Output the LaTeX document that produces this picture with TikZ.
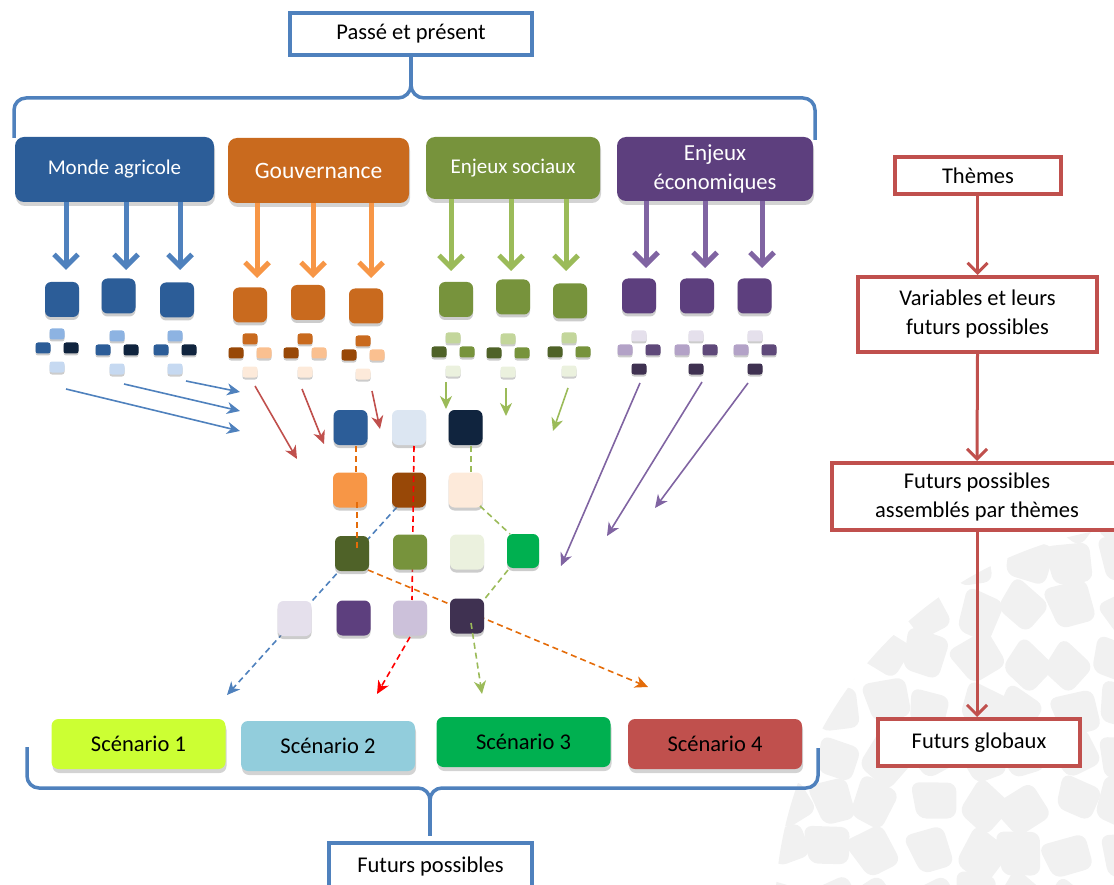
\documentclass[tikz,border=0pt]{standalone}
\usepackage{fontspec}
\setmainfont{Carlito}
\usetikzlibrary{arrows.meta,shadows,calc}
\definecolor{accblue}{HTML}{4F81BD}
\definecolor{cmonde}{HTML}{2C5D98}
\definecolor{cgouv}{HTML}{C96A1E}
\definecolor{csoc}{HTML}{77933C}
\definecolor{cecon}{HTML}{5D3F7E}
\definecolor{aorange}{HTML}{F79646}
\definecolor{agreen}{HTML}{9BBB59}
\definecolor{apurple}{HTML}{8064A2}
\definecolor{ared}{HTML}{C0504D}
\definecolor{dorange}{HTML}{E46C0A}
\definecolor{lblue}{HTML}{8DB3E2}
\definecolor{llblue}{HTML}{C6D9F1}
\definecolor{pblue}{HTML}{DCE6F2}
\definecolor{navy}{HTML}{10243E}
\definecolor{brown}{HTML}{984807}
\definecolor{lorange}{HTML}{FAC090}
\definecolor{cream}{HTML}{FDEADA}
\definecolor{lgreen}{HTML}{C3D69B}
\definecolor{dgreen}{HTML}{4F6228}
\definecolor{pgreen}{HTML}{EBF1DE}
\definecolor{bgreen}{HTML}{00B050}
\definecolor{ppurple}{HTML}{E5E0EC}
\definecolor{lpurple}{HTML}{B3A2C7}
\definecolor{mpurple}{HTML}{5F497A}
\definecolor{dpurple}{HTML}{3F3151}
\definecolor{lilac}{HTML}{CCC1DA}
\definecolor{lime}{HTML}{CCFF33}
\definecolor{aqua}{HTML}{92CDDC}
\definecolor{wmark}{HTML}{F1F1F1}
\newcommand\mycluster[7]{%
  \node[smallsq, fill=#4] (#1t) at (#2,#3-16) {};
  \node[smallsq, fill=#5] (#1l) at (#2-14,#3-2) {};
  \node[smallsq, fill=#6] (#1r) at (#2+14,#3-2) {};
  \node[smallsq, fill=#7] (#1b) at (#2,#3+17) {};
}
\begin{document}
\begin{tikzpicture}[x=1pt,y=-1pt,
  font=\fontsize{22.5}{29}\selectfont,
  catbox/.style={rectangle, rounded corners=9pt, inner sep=0pt, text=white, align=center,
    drop shadow={shadow xshift=1pt, shadow yshift=-4pt, opacity=0.35}},
  scenbox/.style={rectangle, rounded corners=7pt, inner sep=0pt, text=black,
    minimum width=174pt, minimum height=50pt,
    drop shadow={shadow xshift=1pt, shadow yshift=-4pt, opacity=0.35}},
  bigsq/.style={rectangle, rounded corners=6pt, minimum width=34pt, minimum height=35pt, inner sep=0pt,
    drop shadow={shadow xshift=0pt, shadow yshift=-3pt, opacity=0.4}},
  smallsq/.style={rectangle, rounded corners=2.5pt, minimum width=15pt, minimum height=11pt, inner sep=0pt,
    drop shadow={shadow xshift=0pt, shadow yshift=-2pt, opacity=0.4}},
  bluebox/.style={rectangle, draw=accblue, line width=3.5pt, fill=white, inner sep=0pt},
  redbox/.style={rectangle, draw=ared, line width=4pt, fill=white, inner sep=0pt, align=center},
  brace/.style={draw=accblue, line width=3.5pt, line join=round},
  fatarrow/.style={line width=5pt, -{Straight Barb[length=12pt,width=24pt]}},
  thinarrow/.style={line width=1.6pt, -{Stealth[length=13pt,width=12pt,inset=4pt]}},
  dasharrow/.style={line width=1.6pt, dash pattern=on 6pt off 4pt, -{Stealth[length=13pt,width=12pt,inset=4pt]}},
  dashline/.style={line width=1.6pt, dash pattern=on 6pt off 4pt},
  redarrow/.style={draw=ared, line width=3pt, -{Straight Barb[length=10pt,width=20pt]}}
]
\useasboundingbox (0,0) rectangle (1114,885);

% faint background mosaic (bottom right)
\begin{scope}
  \clip (1165,915) circle (390pt);
  \pgfmathsetseed{11}
  \foreach \i in {0,...,7} {
    \foreach \j in {0,...,8} {
      \pgfmathsetmacro\px{785+\i*48+rand*8}
      \pgfmathsetmacro\py{515+\j*48+rand*8}
      \pgfmathsetmacro\pa{rand*40}
      \pgfmathsetmacro\pw{20+rnd*4}
      \pgfmathsetmacro\ph{19+rnd*5}
      \fill[wmark, rounded corners=9pt, rotate around={\pa:(\px,\py)}]
        (\px-\pw,\py-\ph) -- (\px+\pw,\py-\ph+4) -- (\px+\pw-3,\py+\ph) -- (\px-\pw+4,\py+\ph-3) -- cycle;
    }
  }
\end{scope}

% ---------- top ----------
\node[bluebox, minimum width=242pt, minimum height=42pt] (pp) at (411,34) {Passé et présent};
\coordinate (tcusp) at (411,85);
\draw[brace] (14,138) -- (14,110) to[out=90,in=180] (26,98) -- (398,98) to[out=0,in=-90] (tcusp);
\draw[brace] (815,140) -- (815,110) to[out=90,in=0] (803,98) -- (424,98) to[out=180,in=-90] (tcusp);
\draw[brace] (tcusp) -- (pp.south);

% category boxes
\node[catbox, fill=cmonde, minimum width=199pt, minimum height=65pt] (monde) at (114.5,169.5) {\fontsize{21}{26}\selectfont Monde agricole};
\node[catbox, fill=cgouv, minimum width=181pt, minimum height=65pt] (gouv) at (318.5,170.5) {\fontsize{23.5}{28}\selectfont\raisebox{-3pt}{Gouvernance}};
\node[catbox, fill=csoc, minimum width=174pt, minimum height=62pt] (soc) at (513,168) {\fontsize{21}{26}\selectfont Enjeux sociaux};
\node[catbox, fill=cecon, minimum width=196pt, minimum height=64pt] (econ) at (715,169) {\fontsize{23}{29}\selectfont Enjeux\\économiques};

% big squares
\node[bigsq, fill=cmonde] (sb1) at (62,299.5) {};
\node[bigsq, fill=cmonde] (sb2) at (118.5,296) {};
\node[bigsq, fill=cmonde] (sb3) at (177,300) {};
\node[bigsq, fill=cgouv] (so1) at (250,305) {};
\node[bigsq, fill=cgouv] (so2) at (308,302.5) {};
\node[bigsq, fill=cgouv] (so3) at (366,306) {};
\node[bigsq, fill=csoc] (sg1) at (456,299.5) {};
\node[bigsq, fill=csoc] (sg2) at (513,297) {};
\node[bigsq, fill=csoc] (sg3) at (570,301) {};
\node[bigsq, fill=cecon] (sp1) at (639,296) {};
\node[bigsq, fill=cecon] (sp2) at (697,296) {};
\node[bigsq, fill=cecon] (sp3) at (754.5,296) {};

% thick arrows
\foreach \x/\n in {66/1,126/2,180/3} { \coordinate (tb\n) at (\x,270); \draw[fatarrow, accblue] (monde.south -| tb\n) -- (tb\n); }
\foreach \x/\n in {257/1,313/2,371/3} { \coordinate (to\n) at (\x,278); \draw[fatarrow, aorange] (gouv.south -| to\n) -- (to\n); }
\foreach \x/\n in {451/1,511/2,566/3} { \coordinate (tg\n) at (\x,271); \draw[fatarrow, agreen] (soc.south -| tg\n) -- (tg\n); }
\foreach \x/\n in {646/1,705/2,762/3} { \coordinate (tp\n) at (\x,268); \draw[fatarrow, apurple] (econ.south -| tp\n) -- (tp\n); }

% small clusters
\mycluster{cb1}{57}{350}{lblue}{cmonde}{navy}{llblue}
\mycluster{cb2}{117}{352}{lblue}{cmonde}{navy}{llblue}
\mycluster{cb3}{175}{352}{lblue}{cmonde}{navy}{llblue}
\mycluster{co1}{250}{355}{cgouv}{brown}{lorange}{cream}
\mycluster{co2}{305}{355}{cgouv}{brown}{lorange}{cream}
\mycluster{co3}{363}{357}{cgouv}{brown}{lorange}{cream}
\mycluster{cg1}{453}{354}{lgreen}{dgreen}{csoc}{pgreen}
\mycluster{cg2}{508}{355}{lgreen}{dgreen}{csoc}{pgreen}
\mycluster{cg3}{569}{354}{lgreen}{dgreen}{csoc}{pgreen}
\mycluster{cp1}{639}{352}{ppurple}{lpurple}{mpurple}{dpurple}
\mycluster{cp2}{696}{352}{ppurple}{lpurple}{mpurple}{dpurple}
\mycluster{cp3}{755}{352}{ppurple}{lpurple}{mpurple}{dpurple}

% thin arrows
\coordinate (ba1) at (66,389);  \coordinate (bz1) at (240,431);
\coordinate (ba2) at (124,384); \coordinate (bz2) at (240,411);
\coordinate (ba3) at (186,381); \coordinate (bz3) at (240,392);
\draw[thinarrow, accblue] (ba1) -- (bz1);
\draw[thinarrow, accblue] (ba2) -- (bz2);
\draw[thinarrow, accblue] (ba3) -- (bz3);
\coordinate (ra1) at (255,386); \coordinate (rz1) at (297,459);
\coordinate (ra2) at (302,389); \coordinate (rz2) at (324,444);
\coordinate (ra3) at (372,391); \coordinate (rz3) at (380,429);
\draw[thinarrow, ared] (ra1) -- (rz1);
\draw[thinarrow, ared] (ra2) -- (rz2);
\draw[thinarrow, ared] (ra3) -- (rz3);
\coordinate (ga1) at (446,382); \coordinate (gz1) at (446,409);
\coordinate (ga2) at (506,388); \coordinate (gz2) at (506,416);
\coordinate (ga3) at (568,388); \coordinate (gz3) at (553,431);
\draw[thinarrow, agreen] (ga1) -- (gz1);
\draw[thinarrow, agreen] (ga2) -- (gz2);
\draw[thinarrow, agreen] (ga3) -- (gz3);
\coordinate (pa1) at (640,383); \coordinate (pz1) at (561,566);
\coordinate (pa2) at (702,382); \coordinate (pz2) at (607,536);
\coordinate (pa3) at (748,383); \coordinate (pz3) at (655,508);
\draw[thinarrow, apurple] (pa1) -- (pz1);
\draw[thinarrow, apurple] (pa2) -- (pz2);
\draw[thinarrow, apurple] (pa3) -- (pz3);

% dashed lines behind the grid
\coordinate (blueA) at (397,507); \coordinate (blueZ) at (227,695);
\draw[dasharrow, accblue] (blueA) -- (blueZ);
\coordinate (orA) at (368,570); \coordinate (orZ) at (648,687);
\draw[dasharrow, dorange] (orA) -- (orZ);

% grid rows 1-2
\node[bigsq, fill=cmonde] (g11) at (350.5,427.5) {};
\node[bigsq, fill=pblue] (g12) at (409,427.5) {};
\node[bigsq, fill=navy] (g13) at (465.5,427.5) {};
\node[bigsq, fill=aorange] (g21) at (350,490) {};
\node[bigsq, fill=brown] (g22) at (409,490) {};
\node[bigsq, fill=cream] (g23) at (465.5,490) {};

% red vertical over brown
\coordinate (redA) at (414,446); \coordinate (redB) at (412,600);
\draw[dashline, red] (redA) -- (redB);

% grid rows 3-4
\node[bigsq, fill=dgreen] (g31) at (352,553.5) {};
\node[bigsq, fill=csoc] (g32) at (410,552) {};
\node[bigsq, fill=pgreen] (g33) at (467,552) {};
\node[bigsq, fill=bgreen, minimum width=32pt, minimum height=34pt] (g34) at (523,551) {};
\node[bigsq, fill=ppurple] (g41) at (294.5,618.5) {};
\node[bigsq, fill=cecon] (g42) at (353.5,618) {};
\node[bigsq, fill=lilac] (g43) at (410,618) {};
\node[bigsq, fill=dpurple] (g44) at (467,616) {};

% orange vertical
\coordinate (ov1) at (356,446); \coordinate (ov2) at (356,472);
\coordinate (ov3) at (357,502); \coordinate (ov4) at (357,548);
\draw[dashline, dorange] (ov1) -- (ov2);
\draw[dashline, dorange] (ov3) -- (ov4);

% red lower arrow
\coordinate (redC) at (410,637); \coordinate (redZ) at (377,694);
\draw[dasharrow, red] (redC) -- (redZ);

% green zig-zag
\coordinate (gd1) at (471,446); \coordinate (gd2) at (471,472);
\coordinate (gd3) at (480,506); \coordinate (gd4) at (510,534);
\coordinate (gd5) at (508,570); \coordinate (gd6) at (483,601);
\coordinate (gd7) at (471,623); \coordinate (gd8) at (482,694);
\draw[dashline, agreen] (gd1) -- (gd2);
\draw[dashline, agreen] (gd3) -- (gd4);
\draw[dashline, agreen] (gd5) -- (gd6);
\draw[dasharrow, agreen] (gd7) -- (gd8);

% ---------- scenarios ----------
\node[scenbox, fill=lime] (s1) at (138.5,744) {Scénario 1};
\node[scenbox, fill=aqua] (s2) at (328,746) {Scénario 2};
\node[scenbox, fill=bgreen] (s3) at (523.5,742) {Scénario 3};
\node[scenbox, fill=ared] (s4) at (715,744) {Scénario 4};

\node[bluebox, minimum width=203pt, minimum height=46pt] (fp) at (430.5,866) {Futurs possibles};
\coordinate (bcusp) at (430,800);
\draw[brace] (27,747) -- (27,776) to[out=-90,in=180] (39,788) -- (418,788) to[out=0,in=90] (bcusp);
\draw[brace] (818,748) -- (818,776) to[out=-90,in=0] (806,788) -- (442,788) to[out=180,in=90] (bcusp);
\coordinate (btip) at (430,836);
\draw[brace] (bcusp) -- (btip);

% ---------- right column ----------
\node[redbox, minimum width=166pt, minimum height=37pt] (th) at (978,175.5) {Thèmes};
\node[redbox, minimum width=239pt, minimum height=75pt] (var) at (977.5,314.5) {Variables et leurs\\futurs possibles};
\node[redbox, minimum width=290pt, minimum height=67pt] (fpa) at (977,496.5) {Futurs possibles\\assemblés par thèmes};
\node[redbox, minimum width=202pt, minimum height=47pt] (fg) at (979,742.5) {Futurs globaux};
\draw[redarrow] (th.south -| var) -- (var.north);
\draw[redarrow] (var.south) -- (fpa.north);
\draw[redarrow] (fpa.south) -- (fpa.south |- fg.north);
\end{tikzpicture}
\end{document}
